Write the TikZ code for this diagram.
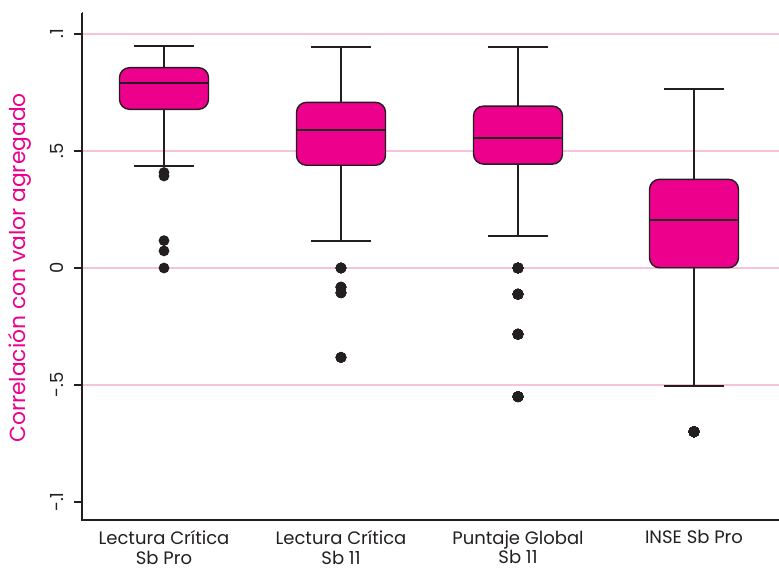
\documentclass[tikz,border=0pt]{standalone}
\usepackage{fontspec}
\setmainfont{Poppins}
\begin{document}
\definecolor{boxfill}{HTML}{EC008C}
\definecolor{ink}{HTML}{231F20}
\definecolor{gridpink}{HTML}{F6C3DA}
\tikzset{
  gridline/.style={gridpink, line width=1.4pt},
  axisline/.style={ink, line width=2.2pt},
  whisker/.style={ink, line width=2pt},
  boxbody/.style={fill=boxfill, draw=ink, line width=1.4pt, rounded corners=10pt},
  medianline/.style={ink, line width=2pt},
  outlier/.style={fill=ink, draw=none},
  ticklabel/.style={font=\fontsize{18}{20}\selectfont, text=ink, rotate=90, anchor=center},
  catlabel/.style={font=\fontsize{18}{19.5}\selectfont, text=ink, align=center, anchor=north},
  ytitle/.style={font=\fontsize{21.8}{24}\selectfont, text=boxfill, rotate=90, anchor=center}
}
% vertical position of a data value: zero at 304pt, 234pt per unit
\newcommand{\yv}[1]{{304+234*(#1)}}
% one box plot: #1 centre x, #2 upper whisker, #3 Q3, #4 median, #5 Q1, #6 lower whisker
\newcommand{\drawboxplot}[6]{%
  \draw[whisker] (#1,\yv{#2}) -- (#1,\yv{#3});
  \draw[whisker] (#1,\yv{#5}) -- (#1,\yv{#6});
  \draw[whisker] ({#1-30},\yv{#2}) -- ({#1+30},\yv{#2});
  \draw[whisker] ({#1-30},\yv{#6}) -- ({#1+30},\yv{#6});
  \draw[boxbody] ({#1-44.5},\yv{#5}) rectangle ({#1+44.5},\yv{#3});
  \draw[medianline] ({#1-44.5},\yv{#4}) -- ({#1+44.5},\yv{#4});
}
\newcommand{\drawoutlier}[2]{\fill[outlier] (#1,\yv{#2}) circle[radius=5.4pt];}
\begin{tikzpicture}[x=1pt,y=1pt]
\useasboundingbox (0,0) rectangle (779,572);
\fill[white] (0,0) rectangle (779,572);
% grid
\foreach \v in {1,0.5,0,-0.5} \draw[gridline] (83,\yv{\v}) -- (779,\yv{\v});
% ticks and tick labels
\foreach \v/\lab/\nm in {1/.1/a,0.5/.5/b,0/0/c,-0.5/-.5/d,-1/-.1/e} {
  \draw[axisline] (74,\yv{\v}) -- (82,\yv{\v});
  \node[ticklabel] (tick\nm) at (57,\yv{\v}) {\lab};
}
% box plots
\drawboxplot{164}{0.950}{0.856}{0.789}{0.678}{0.437}
\drawboxplot{341}{0.946}{0.708}{0.588}{0.439}{0.117}
\drawboxplot{518}{0.946}{0.692}{0.557}{0.444}{0.138}
\drawboxplot{694}{0.765}{0.379}{0.205}{0.001}{-0.503}
% outliers
\foreach \v in {0.408,0.393,0.117,0.073,0.0} \drawoutlier{164}{\v}
\foreach \v in {0.0,-0.082,-0.106,-0.382} \drawoutlier{341}{\v}
\foreach \v in {0.0,-0.112,-0.283,-0.55} \drawoutlier{518}{\v}
\drawoutlier{694}{-0.70}
% axes
\draw[axisline] (82,559) -- (82,52) -- (779,52);
% category labels
\node[catlabel] (c1) at (164,45) {Lectura Crítica\\Sb Pro};
\node[catlabel] (c2) at (341,45) {Lectura Crítica\\Sb 11};
\node[catlabel] (c3) at (518,45) {Puntaje Global\\Sb 11};
\node[catlabel] (c4) at (694,45) {INSE Sb Pro};
% axis title
\node[ytitle] (ytitle) at (20,304) {Correlación con valor agregado};
\end{tikzpicture}
\end{document}
